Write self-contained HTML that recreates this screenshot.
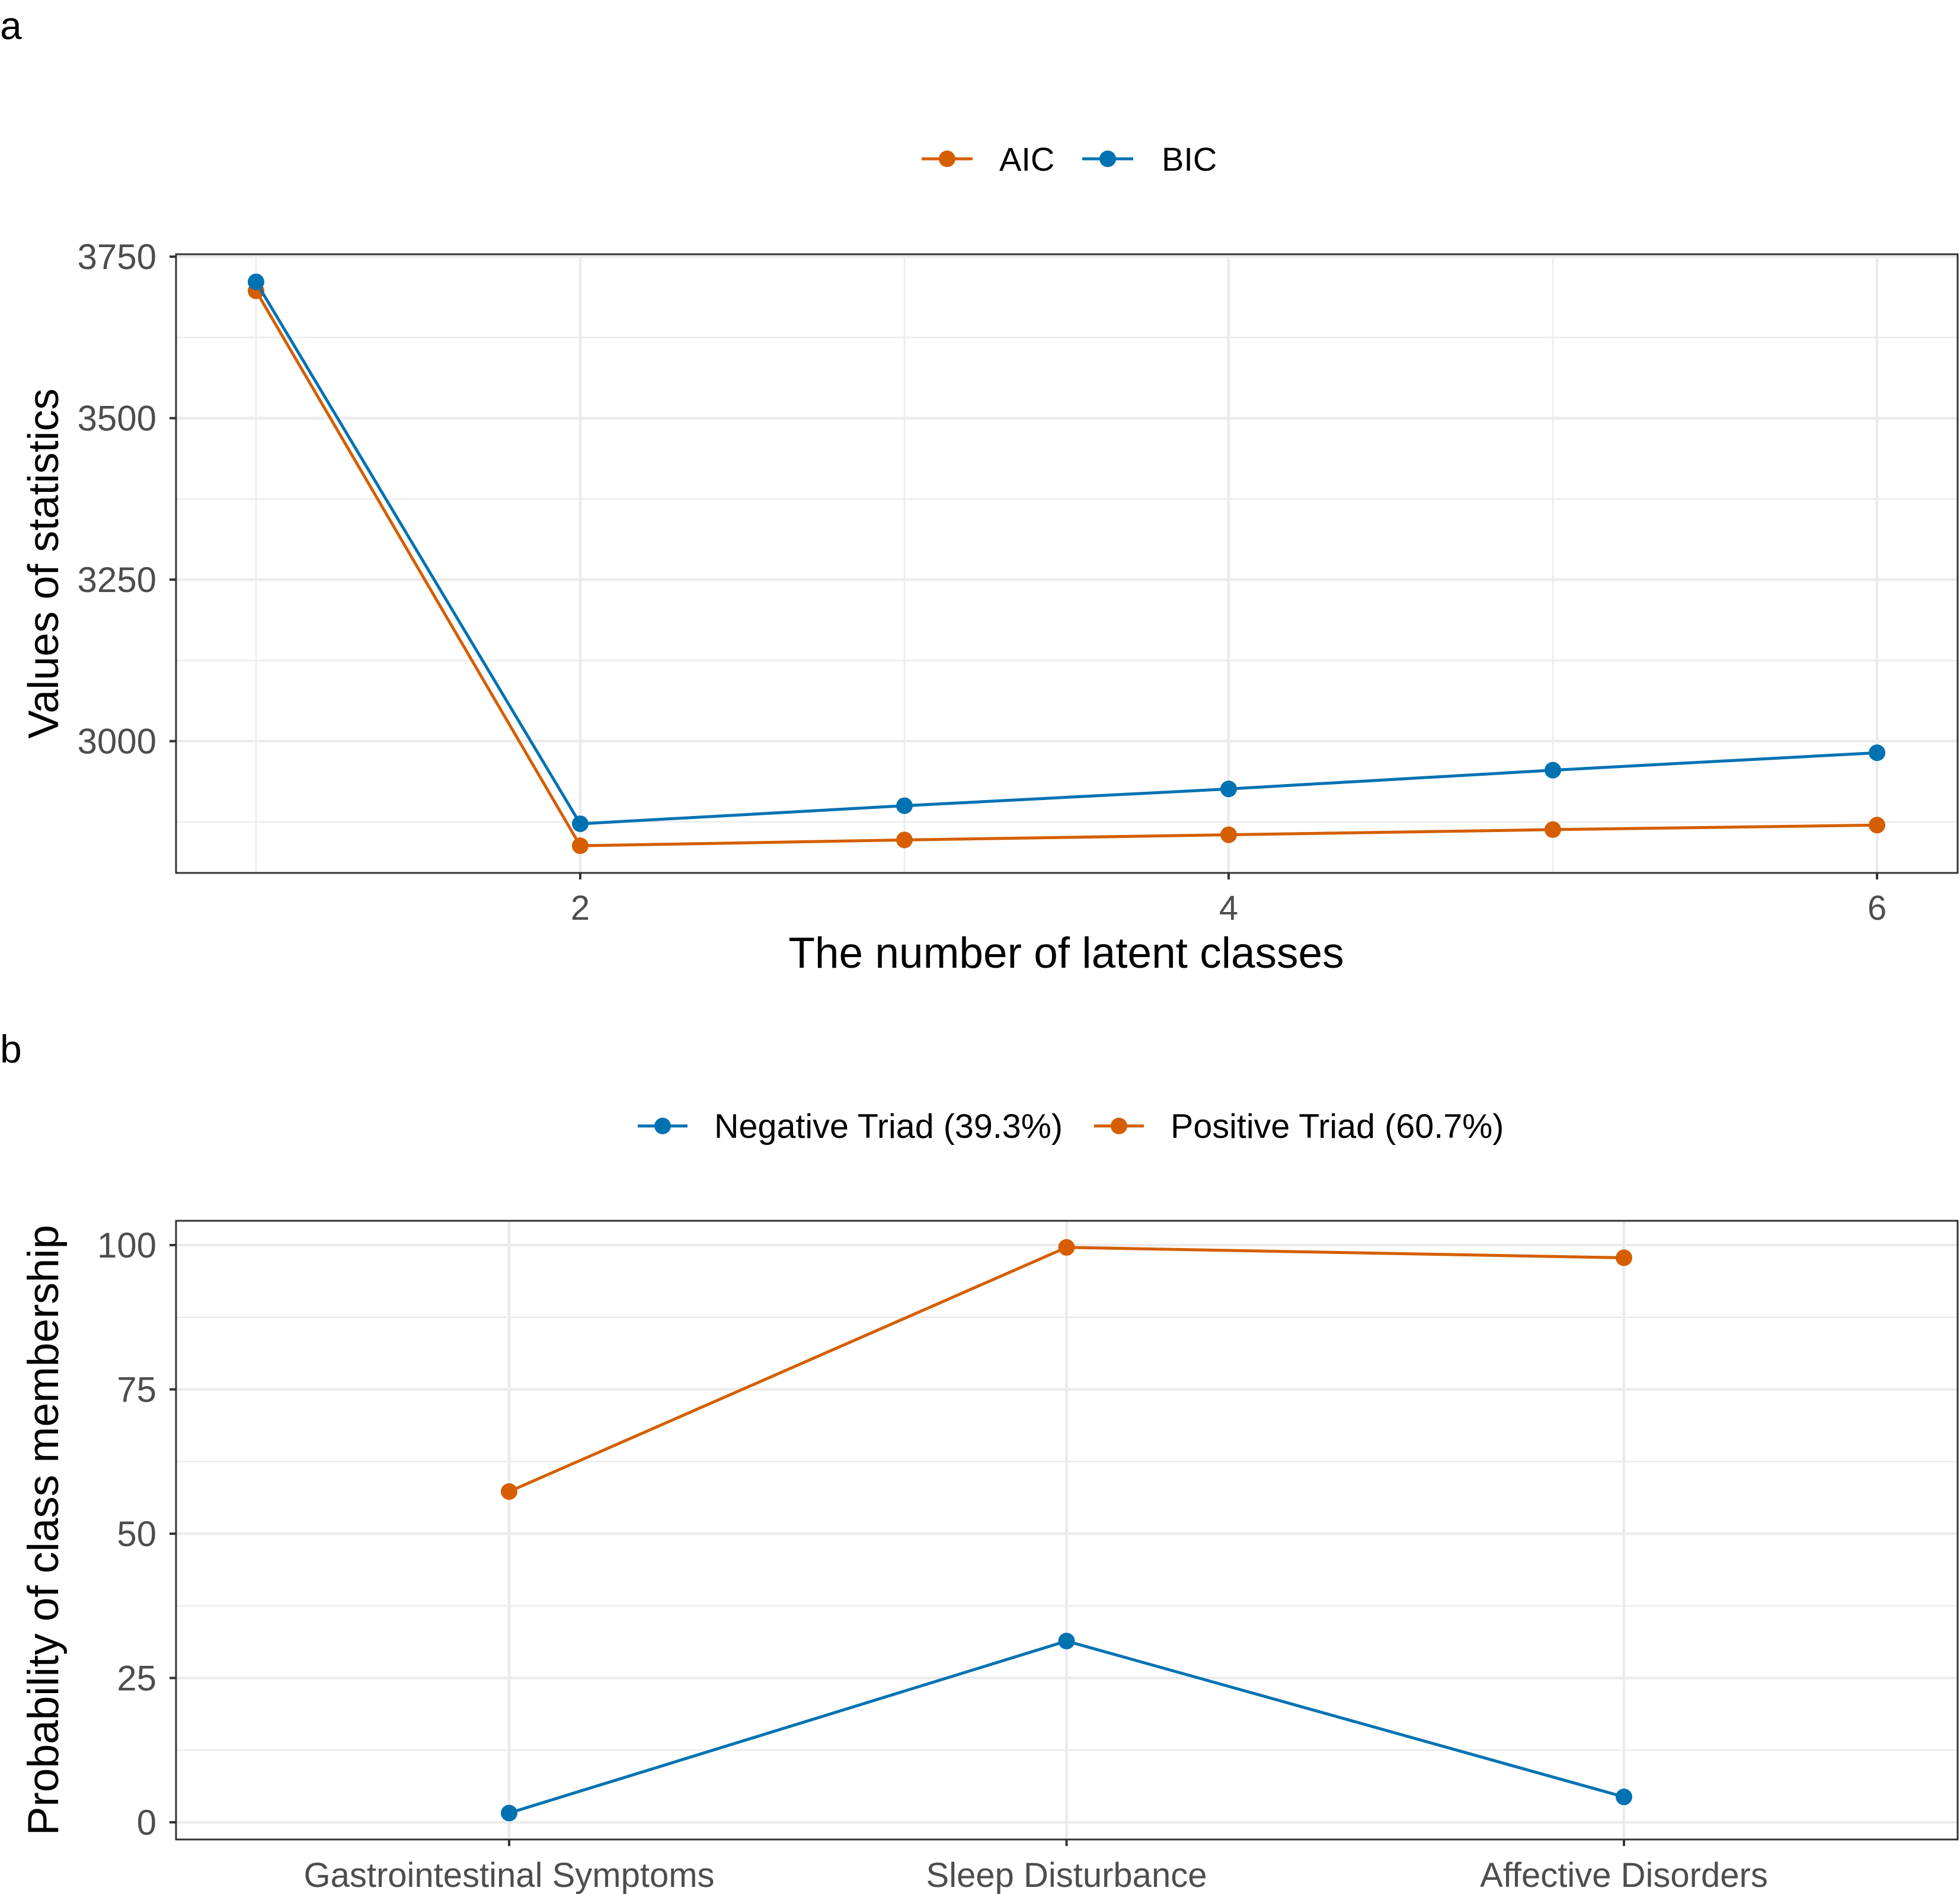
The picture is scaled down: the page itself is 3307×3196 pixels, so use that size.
<!DOCTYPE html>
<html><head><meta charset="utf-8"><style>body{margin:0;background:#fff}svg{display:block}text{font-family:"Liberation Sans",sans-serif}</style></head>
<body>
<svg id="chart" width="3307" height="3196" viewBox="0 0 3307 3196" xmlns="http://www.w3.org/2000/svg">
<rect width="3307" height="3196" fill="#fff"/>
<g id="pa"></g>
<g id="pb"></g>
</svg>
<script>
const classesA = [1,2,3,4,5,6];
const aicValues = [3697,2838,2847,2855,2863,2870];
const bicValues = [3711,2872,2900,2926,2955,2982];
const yTicksA = [3000,3250,3500,3750];
const xTicksA = [2,4,6];
const categoriesB = ["Gastrointestinal Symptoms","Sleep Disturbance","Affective Disorders"];
const negativeValues = [1.6,31.4,4.4];
const positiveValues = [57.3,99.6,97.8];
const yTicksB = [0,25,50,75,100];

const NS="http://www.w3.org/2000/svg";
const ORANGE="#D55E00", BLUE="#0072B2";
function mk(parent,tag,attrs,txt){const e=document.createElementNS(NS,tag);for(const k in attrs)e.setAttribute(k,attrs[k]);if(txt!==undefined)e.textContent=txt;parent.appendChild(e);return e;}

// ---------- Panel A ----------
const A=document.getElementById('pa');
const aL=297,aR=3303,aT=429,aB=1473;
const xA=v=>432+(v-1)*547;
const yA=v=>1250.6-(v-3000)/250*272.5;
mk(A,'text',{x:0,y:66,'font-size':66,fill:'#000'},'a');
for(let v=2875;v<=3750;v+=125){const g=mk(A,'line',{x1:aL,x2:aR,y1:yA(v),y2:yA(v),stroke:'#ebebeb','stroke-width':(v%250===0)?4.5:2.5});}
for(let v=1;v<=6;v++){const g=mk(A,'line',{x1:xA(v),x2:xA(v),y1:aT,y2:aB,stroke:'#ebebeb','stroke-width':(v%2===0)?4.5:2.5});}
function series(P,xs,ys,color,name){
  const pts=xs.map((x,i)=>x+','+ys[i]).join(' ');
  const l=mk(P,'polyline',{points:pts,fill:'none',stroke:color,'stroke-width':5,'stroke-linejoin':'round'});
  
  xs.forEach((x,i)=>{const c=mk(P,'circle',{cx:x,cy:ys[i],r:14,fill:color});});
}
series(A,classesA.map(xA),aicValues.map(yA),ORANGE,'aic');
series(A,classesA.map(xA),bicValues.map(yA),BLUE,'bic');
mk(A,'rect',{x:aL,y:aT,width:aR-aL,height:aB-aT,fill:'none',stroke:'#333','stroke-width':3});
yTicksA.forEach(v=>{mk(A,'line',{x1:aL-11,x2:aL,y1:yA(v),y2:yA(v),stroke:'#333','stroke-width':4});
  const t=mk(A,'text',{x:aL-33,y:yA(v)+21,'font-size':60,fill:'#4d4d4d','text-anchor':'end'},v);});
xTicksA.forEach(v=>{mk(A,'line',{x1:xA(v),x2:xA(v),y1:aB,y2:aB+11,stroke:'#333','stroke-width':4});
  const t=mk(A,'text',{x:xA(v),y:1552,'font-size':58,fill:'#4d4d4d','text-anchor':'middle'},v);});
let t=mk(A,'text',{x:1799,y:1633,'font-size':73,fill:'#000','text-anchor':'middle'},'The number of latent classes');
t=mk(A,'text',{x:0,y:0,'font-size':72,fill:'#000','text-anchor':'middle',transform:'translate(98,951) rotate(-90)'},'Values of statistics');
function legendEntry(P,x0,x1,y,color,label,lx,name,fs){
  const g=mk(P,'g',{});
  mk(g,'line',{x1:x0,x2:x1,y1:y,y2:y,stroke:color,'stroke-width':5});
  mk(g,'circle',{cx:(x0+x1)/2,cy:y,r:14,fill:color});
  mk(g,'text',{x:lx,y:y+20,'font-size':fs,fill:'#000'},label);
}
legendEntry(A,1555,1641,268,ORANGE,'AIC',1686,'legend-aic',56);
legendEntry(A,1826,1912,268,BLUE,'BIC',1960,'legend-bic',56);

// ---------- Panel B ----------
const B=document.getElementById('pb');
const bL=297,bR=3303,bT=2060,bB=3104;
const xB=i=>859+i*940.5;
const yB=v=>3075-v/25*243.5;
mk(B,'text',{x:0,y:1793,'font-size':66,fill:'#000'},'b');
for(let v=0;v<=100;v+=12.5){const g=mk(B,'line',{x1:bL,x2:bR,y1:yB(v),y2:yB(v),stroke:'#ebebeb','stroke-width':(v%25===0)?4.5:2.5});}
categoriesB.forEach((c,i)=>{const g=mk(B,'line',{x1:xB(i),x2:xB(i),y1:bT,y2:bB,stroke:'#ebebeb','stroke-width':4.5});});
series(B,categoriesB.map((c,i)=>xB(i)),positiveValues.map(yB),ORANGE,'positive-triad');
series(B,categoriesB.map((c,i)=>xB(i)),negativeValues.map(yB),BLUE,'negative-triad');
mk(B,'rect',{x:bL,y:bT,width:bR-bL,height:bB-bT,fill:'none',stroke:'#333','stroke-width':3});
yTicksB.forEach(v=>{mk(B,'line',{x1:bL-11,x2:bL,y1:yB(v),y2:yB(v),stroke:'#333','stroke-width':4});
  const t=mk(B,'text',{x:bL-33,y:yB(v)+21,'font-size':60,fill:'#4d4d4d','text-anchor':'end'},v);});
categoriesB.forEach((c,i)=>{mk(B,'line',{x1:xB(i),x2:xB(i),y1:bB,y2:bB+11,stroke:'#333','stroke-width':4});
  const t=mk(B,'text',{x:xB(i),y:3184,'font-size':58,fill:'#4d4d4d','text-anchor':'middle'},c);});
t=mk(B,'text',{x:0,y:0,'font-size':73,fill:'#000','text-anchor':'middle',transform:'translate(98,2582) rotate(-90)'},'Probability of class membership');
legendEntry(B,1076,1160,1900,BLUE,'Negative Triad (39.3%)',1205,'legend-negative-triad',57.5);
legendEntry(B,1846,1930,1900,ORANGE,'Positive Triad (60.7%)',1975,'legend-positive-triad',57.5);
</script>
</body></html>
